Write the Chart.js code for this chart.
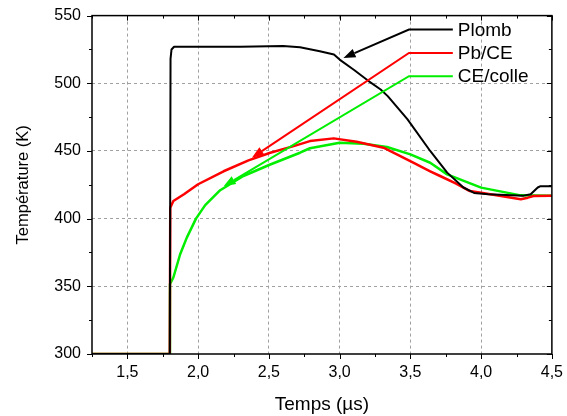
<!DOCTYPE html>
<html>
<head>
<meta charset="utf-8">
<script src="https://cdn.jsdelivr.net/npm/chart.js@4"></script>
<style>
  html, body { margin: 0; padding: 0; background: #fff; }
  #box { width: 567px; height: 416px; }
</style>
</head>
<body>
<div id="box"><canvas id="graficoTemp"></canvas></div>
<script>
// valeurs (temps en µs, température en K)
const tempsPlomb = [1.25, 1.80, 1.805, 1.812, 1.83, 2.0, 2.3, 2.6, 2.72, 2.86, 2.96, 3.0, 3.1, 3.2, 3.29, 3.34, 3.48, 3.64, 3.76, 3.875, 3.95, 4.05, 4.3, 4.35, 4.40, 4.42, 4.5];
const tempPlomb = [300, 300, 518, 525, 527, 527, 527, 527.5, 526.6, 523.7, 521.2, 517.5, 510, 502, 495.4, 490.5, 473.3, 450, 434, 423, 419, 418, 417, 418, 423, 424, 424];

const tempsPbCE = [1.25, 1.80, 1.803, 1.825, 1.9, 2.0, 2.18, 2.356, 2.51, 2.675, 2.79, 2.958, 3.12, 3.31, 3.45, 3.52, 3.64, 3.71, 3.82, 3.92, 4.0, 4.28, 4.33, 4.37, 4.5];
const tempPbCE = [300, 300, 408, 413, 418, 425.4, 435, 443, 448.7, 453.6, 457.3, 459.3, 456.8, 452.4, 445, 441.3, 435, 431.5, 426, 420.4, 419.2, 414.3, 415.5, 416.7, 417];

const tempsColle = [1.25, 1.80, 1.801, 1.825, 1.873, 1.92, 1.985, 2.05, 2.156, 2.32, 2.51, 2.72, 2.79, 3.0, 3.17, 3.335, 3.5, 3.64, 3.76, 4.0, 4.28, 4.5];
const tempColle = [300, 300, 351.6, 356.5, 373.7, 386, 400, 410, 421, 431.5, 440, 448.7, 452, 456, 455.3, 452.9, 447.5, 441.3, 432.7, 422.9, 417.2, 417];

const ticksX = [1.5, 2.0, 2.5, 3.0, 3.5, 4.0, 4.5];
const ticksY = [300, 350, 400, 450, 500, 550];

// légende annotée : libellés, hauteur des traits et pointes de flèche
const legendes = ['Plomb', 'Pb/CE', 'CE/colle'];
const legendeY = [539.7, 522.4, 505.2];
const legendeX = [3.49, 3.80];
const flecheX = [3.027, 2.38, 2.18];
const flecheY = [518.7, 445, 424];
const couleurs = ['#000000', '#ff0000', '#00ee00'];

function points(xs, ys) {
    return xs.map((x, i) => ({ x: x, y: ys[i] }));
}

function virgule(v) {
    return v.toFixed(1).replace('.', ',');
}

const cadre = {
    id: 'cadre',
    afterDatasetsDraw(chart) {
        const ctx = chart.ctx;
        const a = chart.chartArea;
        const sx = chart.scales.x;
        const sy = chart.scales.y;
        ctx.save();
        ctx.strokeStyle = '#000';
        ctx.lineWidth = 1.5;
        ctx.strokeRect(a.left, a.top, a.right - a.left, a.bottom - a.top);

        ctx.lineWidth = 1;
        ctx.beginPath();
        for (let v = 1.25; v <= 4.5001; v += 0.25) {
            const px = Math.round(sx.getPixelForValue(v)) + 0.5;
            const major = Math.abs(v * 2 - Math.round(v * 2)) < 1e-6;
            const len = major ? 5 : 3;
            ctx.moveTo(px, a.bottom); ctx.lineTo(px, a.bottom + len);
            ctx.moveTo(px, a.top); ctx.lineTo(px, a.top + len);
        }
        for (let v = 300; v <= 550; v += 25) {
            const py = Math.round(sy.getPixelForValue(v)) + 0.5;
            const len = (v % 50 === 0) ? 5 : 3;
            ctx.moveTo(a.left, py); ctx.lineTo(a.left - len, py);
            ctx.moveTo(a.right, py); ctx.lineTo(a.right - len, py);
        }
        ctx.stroke();

        // traits de légende et flèches
        ctx.font = '19px "Liberation Sans", Arial, sans-serif';
        ctx.textBaseline = 'middle';
        legendes.forEach((txt, i) => {
            const x0 = sx.getPixelForValue(legendeX[0]);
            const x1 = sx.getPixelForValue(legendeX[1]);
            const y0 = sy.getPixelForValue(legendeY[i]);
            const tx = sx.getPixelForValue(flecheX[i]);
            const ty = sy.getPixelForValue(flecheY[i]);
            ctx.strokeStyle = couleurs[i];
            ctx.fillStyle = couleurs[i];
            ctx.lineWidth = 2;
            ctx.beginPath();
            ctx.moveTo(x1, y0);
            ctx.lineTo(x0, y0);
            const ang = Math.atan2(ty - y0, tx - x0);
            const bx = tx - 12 * Math.cos(ang);
            const by = ty - 12 * Math.sin(ang);
            ctx.lineTo(bx, by);
            ctx.stroke();
            ctx.beginPath();
            ctx.moveTo(tx, ty);
            ctx.lineTo(bx + 4.5 * Math.sin(ang), by - 4.5 * Math.cos(ang));
            ctx.lineTo(bx - 4.5 * Math.sin(ang), by + 4.5 * Math.cos(ang));
            ctx.closePath();
            ctx.fill();
            ctx.fillStyle = '#000';
            ctx.fillText(txt, x1 + 5, y0 + 1);
        });
        ctx.restore();
    }
};

const grille = (vals) => (c) => {
    if (c.tick && vals.includes(c.tick.value)) return '#a0a0a0';
    return 'rgba(0,0,0,0)';
};

const graficoTemp = new Chart(document.getElementById('graficoTemp'), {
    type: 'line',
    data: {
        datasets: [
            { label: 'Plomb', data: points(tempsPlomb, tempPlomb), borderColor: couleurs[0], borderWidth: 2 },
            { label: 'Pb/CE', data: points(tempsPbCE, tempPbCE), borderColor: couleurs[1], borderWidth: 2.5 },
            { label: 'CE/colle', data: points(tempsColle, tempColle), borderColor: couleurs[2], borderWidth: 2.5 }
        ]
    },
    options: {
        responsive: true,
        maintainAspectRatio: false,
        animation: false,
        parsing: false,
        elements: { point: { radius: 0 }, line: { tension: 0, borderJoinStyle: 'round' } },
        layout: { padding: { top: 14, right: 15, left: 0, bottom: 0 } },
        plugins: { legend: { display: false }, tooltip: { enabled: false } },
        scales: {
            x: {
                type: 'linear',
                min: 1.25,
                max: 4.5,
                afterBuildTicks: (s) => { s.ticks = ticksX.map(v => ({ value: v })); },
                afterFit: (s) => { s.height = 62; },
                ticks: {
                    color: '#000',
                    padding: 4,
                    maxRotation: 0,
                    font: { family: '"Liberation Sans", Arial', size: 16 },
                    callback: (v) => virgule(v)
                },
                grid: { color: grille([1.5, 2.0, 2.5, 3.0, 3.5, 4.0]), tickColor: 'rgba(0,0,0,0)', tickLength: 5, lineWidth: 1 },
                border: { display: false, dash: [3, 3] },
                title: {
                    display: true,
                    text: 'Temps (µs)',
                    color: '#000',
                    font: { family: '"Liberation Sans", Arial', size: 19 },
                    padding: { top: 2, bottom: 0 }
                }
            },
            y: {
                min: 300,
                max: 550,
                afterBuildTicks: (s) => { s.ticks = ticksY.map(v => ({ value: v })); },
                afterFit: (s) => { s.width = 92; },
                ticks: {
                    color: '#000',
                    padding: 6,
                    font: { family: '"Liberation Sans", Arial', size: 16 }
                },
                grid: { color: grille([350, 400, 450, 500]), tickColor: 'rgba(0,0,0,0)', tickLength: 5, lineWidth: 1 },
                border: { display: false, dash: [3, 3] },
                title: {
                    display: true,
                    text: 'Température (K)',
                    color: '#000',
                    font: { family: '"Liberation Sans", Arial', size: 16.5 },
                    padding: { top: 14, bottom: 4 }
                }
            }
        }
    },
    plugins: [cadre]
});
</script>
</body>
</html>
